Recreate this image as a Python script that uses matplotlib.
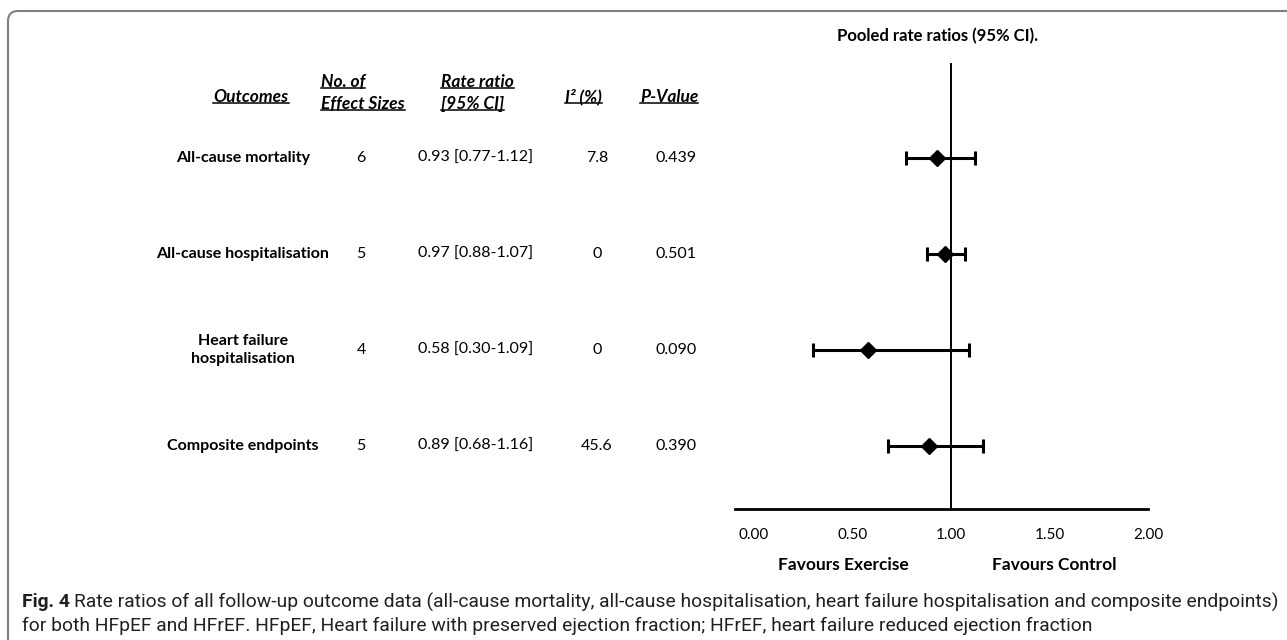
import matplotlib
matplotlib.use("Agg")
import matplotlib.pyplot as plt
from matplotlib import font_manager
from matplotlib.lines import Line2D
from matplotlib.patches import FancyBboxPatch
from matplotlib.transforms import Affine2D

# ---------------- data ----------------
outcomes = ["All-cause mortality", "All-cause hospitalisation",
            "Heart failure\nhospitalisation", "Composite endpoints"]
n_effects = ["6", "5", "4", "5"]
rate_ratio = [0.93, 0.97, 0.58, 0.89]
ci_low = [0.77, 0.88, 0.30, 0.68]
ci_high = [1.12, 1.07, 1.09, 1.16]
i2_values = ["7.8", "0", "0", "45.6"]
p_values = ["0.439", "0.501", "0.090", "0.390"]
xticks = [0.0, 0.5, 1.0, 1.5, 2.0]
xtick_labels = ["0.00", "0.50", "1.00", "1.50", "2.00"]

W, H = 1287, 640
installed = sorted({f.name for f in font_manager.fontManager.ttflist})
main_font = [f for f in ["Lato", "Open Sans", "DejaVu Sans"] if f in installed]
cap_font = [f for f in ["Roboto", "Lato", "DejaVu Sans"] if f in installed]
plt.rcParams['font.family'] = main_font

fig = plt.figure(figsize=(W / 100, H / 100), dpi=100)
px = Affine2D().scale(1 / W, 1 / H) + fig.transFigure   # pixel coords, origin bottom-left


def T(x, y, s, **kw):
    return fig.text(x / W, 1 - y / H, s, **kw)


# border (rounded top-left corner, open to right and bottom)
border = FancyBboxPatch((8, -40), 1400, H - 11 + 40,
                        boxstyle="round,pad=0,rounding_size=10",
                        transform=px, fill=False, edgecolor="#7f7f7f",
                        linewidth=1.5, clip_on=False)
fig.add_artist(border)

# ---------------- forest axes ----------------
x_left_px, x_right_px = 735, 1148
x0_px, x2_px = 754, 1148
scale = (x2_px - x0_px) / 2.0
xmin = (x_left_px - x0_px) / scale
top_px, bot_px = 63, 509
row0_px, row_step = 158, 96
ax = fig.add_axes([x_left_px / W, 1 - bot_px / H, (x_right_px - x_left_px) / W, (bot_px - top_px) / H])
ax.set_xlim(xmin, 2.0)
ax.set_ylim((bot_px - row0_px) / row_step, (top_px - row0_px) / row_step)
for s in ["top", "right", "left"]:
    ax.spines[s].set_visible(False)
ax.spines["bottom"].set_linewidth(2.0)
ax.set_yticks([])
ax.set_xticks(xticks)
ax.set_xticklabels(xtick_labels, fontsize=11)
ax.tick_params(axis="x", length=0, pad=14)
ax.axvline(1.0, color="black", lw=1.4)
ys = list(range(len(outcomes)))
xerr = [[r - l for r, l in zip(rate_ratio, ci_low)], [h - r for r, h in zip(rate_ratio, ci_high)]]
ax.errorbar(rate_ratio, ys, xerr=xerr, fmt="D", color="black", ms=8.5,
            elinewidth=2.2, capsize=5, capthick=2.2)
ax.patch.set_visible(False)

T(938, 36, "Pooled rate ratios (95% CI).", ha="center", va="center", fontsize=12, fontweight="bold")
T(843, 565, "Favours Exercise", ha="center", va="center", fontsize=12.5, fontweight="bold")
T(1054, 565, "Favours Control", ha="center", va="center", fontsize=12.5, fontweight="bold")

# ---------------- table ----------------
hdr = dict(fontsize=12.5, fontweight="bold", fontstyle="italic", va="center")
underline = []
underline.append(T(251, 97, "Outcomes", ha="center", **hdr))
underline.append(T(321, 82, "No. of", ha="left", **hdr))
underline.append(T(321, 104, "Effect Sizes", ha="left", **hdr))
underline.append(T(441, 82, "Rate ratio", ha="left", **hdr))
underline.append(T(441, 104, "[95% CI]", ha="left", **hdr))
underline.append(T(565, 97, "I² (%)", ha="left", **hdr))
underline.append(T(640, 97, "P-Value", ha="left", **hdr))

cell = dict(fontsize=11.5, va="center", ha="center")
for i in range(len(outcomes)):
    y = row0_px + row_step * i
    T(243, y, outcomes[i], fontweight="bold", linespacing=1.35, **cell)
    T(361, y, n_effects[i], **cell)
    T(476, y, f"{rate_ratio[i]:.2f} [{ci_low[i]:.2f}-{ci_high[i]:.2f}]", **cell)
    T(597, y, i2_values[i], **cell)
    T(676, y, p_values[i], **cell)

# ---------------- caption ----------------
cap_col = "#231f20"
fig_lbl = T(22, 602, "Fig. 4", ha="left", va="center", fontsize=12, fontweight="bold",
            family=cap_font, color=cap_col)
line1 = T(74, 602, "Rate ratios of all follow-up outcome data (all-cause mortality, all-cause hospitalisation, "
          "heart failure hospitalisation and composite endpoints)", ha="left", va="center",
          fontsize=12, family=cap_font, color=cap_col)
line2 = T(22, 626, "for both HFpEF and HFrEF. HFpEF, Heart failure with preserved ejection fraction; "
          "HFrEF, heart failure reduced ejection fraction", ha="left", va="center",
          fontsize=12, family=cap_font, color=cap_col)

fig.canvas.draw()
r = fig.canvas.get_renderer()
# fit caption line 1 to reference width
bb = line1.get_window_extent(r)
f = (1276 - 74) / bb.width
for t in (line1, line2, fig_lbl):
    t.set_fontsize(12 * f)
fig.canvas.draw()

for t in underline:
    bb = t.get_window_extent(r)
    yb = bb.y0 + 2
    fig.add_artist(Line2D([bb.x0, bb.x1], [yb, yb], transform=px, color="black", lw=1.1))

fig.savefig("out.png", dpi=100, facecolor="white")
